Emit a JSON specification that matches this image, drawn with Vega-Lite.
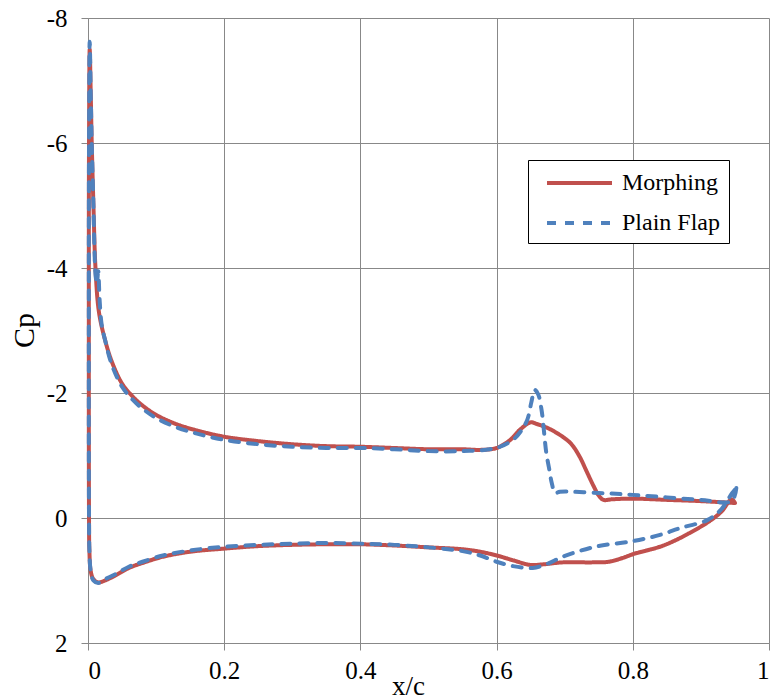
{
  "$schema": "https://vega.github.io/schema/vega-lite/v6.json",
  "width": 681,
  "height": 625,
  "autosize": {"type": "none"},
  "padding": {"left": 88, "top": 18, "right": 3, "bottom": 56},
  "background": "white",
  "config": {
    "font": "Liberation Serif",
    "view": {"stroke": null},
    "axis": {
      "gridColor": "#888888",
      "gridWidth": 1,
      "gridOpacity": 1,
      "domainColor": "#888888",
      "tickColor": "#888888",
      "tickSize": 7,
      "labelFont": "Liberation Serif",
      "labelColor": "black",
      "titleFont": "Liberation Serif",
      "titleColor": "black",
      "titleFontWeight": "normal"
    }
  },
  "data": {
    "values": [
      {"s": "Morphing", "o": 1, "x": 0.95, "cp": -0.24},
      {"s": "Morphing", "o": 2, "x": 0.9, "cp": -0.27},
      {"s": "Morphing", "o": 3, "x": 0.85, "cp": -0.29},
      {"s": "Morphing", "o": 4, "x": 0.8, "cp": -0.31},
      {"s": "Morphing", "o": 5, "x": 0.77, "cp": -0.3},
      {"s": "Morphing", "o": 6, "x": 0.757, "cp": -0.29},
      {"s": "Morphing", "o": 7, "x": 0.75, "cp": -0.36},
      {"s": "Morphing", "o": 8, "x": 0.742, "cp": -0.52},
      {"s": "Morphing", "o": 9, "x": 0.732, "cp": -0.75},
      {"s": "Morphing", "o": 10, "x": 0.722, "cp": -0.98},
      {"s": "Morphing", "o": 11, "x": 0.71, "cp": -1.18},
      {"s": "Morphing", "o": 12, "x": 0.697, "cp": -1.3},
      {"s": "Morphing", "o": 13, "x": 0.675, "cp": -1.44},
      {"s": "Morphing", "o": 14, "x": 0.66, "cp": -1.5},
      {"s": "Morphing", "o": 15, "x": 0.65, "cp": -1.53},
      {"s": "Morphing", "o": 16, "x": 0.635, "cp": -1.42},
      {"s": "Morphing", "o": 17, "x": 0.62, "cp": -1.25},
      {"s": "Morphing", "o": 18, "x": 0.6, "cp": -1.12},
      {"s": "Morphing", "o": 19, "x": 0.576, "cp": -1.09},
      {"s": "Morphing", "o": 20, "x": 0.55, "cp": -1.1},
      {"s": "Morphing", "o": 21, "x": 0.5, "cp": -1.1},
      {"s": "Morphing", "o": 22, "x": 0.45, "cp": -1.12},
      {"s": "Morphing", "o": 23, "x": 0.4, "cp": -1.14},
      {"s": "Morphing", "o": 24, "x": 0.35, "cp": -1.15},
      {"s": "Morphing", "o": 25, "x": 0.3, "cp": -1.18},
      {"s": "Morphing", "o": 26, "x": 0.25, "cp": -1.23},
      {"s": "Morphing", "o": 27, "x": 0.2, "cp": -1.3},
      {"s": "Morphing", "o": 28, "x": 0.16, "cp": -1.4},
      {"s": "Morphing", "o": 29, "x": 0.13, "cp": -1.5},
      {"s": "Morphing", "o": 30, "x": 0.1, "cp": -1.65},
      {"s": "Morphing", "o": 31, "x": 0.08, "cp": -1.8},
      {"s": "Morphing", "o": 32, "x": 0.065, "cp": -1.95},
      {"s": "Morphing", "o": 33, "x": 0.05, "cp": -2.15},
      {"s": "Morphing", "o": 34, "x": 0.035, "cp": -2.5},
      {"s": "Morphing", "o": 35, "x": 0.025, "cp": -2.85},
      {"s": "Morphing", "o": 36, "x": 0.016, "cp": -3.3},
      {"s": "Morphing", "o": 37, "x": 0.011, "cp": -4.0},
      {"s": "Morphing", "o": 38, "x": 0.008, "cp": -5.0},
      {"s": "Morphing", "o": 39, "x": 0.0055, "cp": -6.0},
      {"s": "Morphing", "o": 40, "x": 0.004, "cp": -6.8},
      {"s": "Morphing", "o": 41, "x": 0.0025, "cp": -7.5},
      {"s": "Morphing", "o": 42, "x": 0.0015, "cp": -6.0},
      {"s": "Morphing", "o": 43, "x": 0.0012, "cp": -3.0},
      {"s": "Morphing", "o": 44, "x": 0.0015, "cp": 0.0},
      {"s": "Morphing", "o": 45, "x": 0.002, "cp": 0.5},
      {"s": "Morphing", "o": 46, "x": 0.004, "cp": 0.85},
      {"s": "Morphing", "o": 47, "x": 0.008, "cp": 0.98},
      {"s": "Morphing", "o": 48, "x": 0.015, "cp": 1.03},
      {"s": "Morphing", "o": 49, "x": 0.025, "cp": 1.0},
      {"s": "Morphing", "o": 50, "x": 0.04, "cp": 0.92},
      {"s": "Morphing", "o": 51, "x": 0.06, "cp": 0.8},
      {"s": "Morphing", "o": 52, "x": 0.08, "cp": 0.72},
      {"s": "Morphing", "o": 53, "x": 0.11, "cp": 0.62},
      {"s": "Morphing", "o": 54, "x": 0.15, "cp": 0.54},
      {"s": "Morphing", "o": 55, "x": 0.2, "cp": 0.49},
      {"s": "Morphing", "o": 56, "x": 0.25, "cp": 0.45},
      {"s": "Morphing", "o": 57, "x": 0.3, "cp": 0.43},
      {"s": "Morphing", "o": 58, "x": 0.35, "cp": 0.42},
      {"s": "Morphing", "o": 59, "x": 0.4, "cp": 0.42},
      {"s": "Morphing", "o": 60, "x": 0.45, "cp": 0.44},
      {"s": "Morphing", "o": 61, "x": 0.5, "cp": 0.47},
      {"s": "Morphing", "o": 62, "x": 0.55, "cp": 0.5},
      {"s": "Morphing", "o": 63, "x": 0.576, "cp": 0.54},
      {"s": "Morphing", "o": 64, "x": 0.6, "cp": 0.6},
      {"s": "Morphing", "o": 65, "x": 0.625, "cp": 0.68},
      {"s": "Morphing", "o": 66, "x": 0.649, "cp": 0.75},
      {"s": "Morphing", "o": 67, "x": 0.67, "cp": 0.74},
      {"s": "Morphing", "o": 68, "x": 0.697, "cp": 0.71},
      {"s": "Morphing", "o": 69, "x": 0.74, "cp": 0.71},
      {"s": "Morphing", "o": 70, "x": 0.765, "cp": 0.7},
      {"s": "Morphing", "o": 71, "x": 0.785, "cp": 0.64},
      {"s": "Morphing", "o": 72, "x": 0.8, "cp": 0.58},
      {"s": "Morphing", "o": 73, "x": 0.82, "cp": 0.52},
      {"s": "Morphing", "o": 74, "x": 0.84, "cp": 0.46},
      {"s": "Morphing", "o": 75, "x": 0.86, "cp": 0.37},
      {"s": "Morphing", "o": 76, "x": 0.88, "cp": 0.26},
      {"s": "Morphing", "o": 77, "x": 0.91, "cp": 0.07},
      {"s": "Morphing", "o": 78, "x": 0.93, "cp": -0.1},
      {"s": "Morphing", "o": 79, "x": 0.945, "cp": -0.3},
      {"s": "Morphing", "o": 80, "x": 0.95, "cp": -0.24},
      {"s": "Plain Flap", "o": 1, "x": 0.952, "cp": -0.48},
      {"s": "Plain Flap", "o": 2, "x": 0.945, "cp": -0.27},
      {"s": "Plain Flap", "o": 3, "x": 0.9, "cp": -0.29},
      {"s": "Plain Flap", "o": 4, "x": 0.85, "cp": -0.33},
      {"s": "Plain Flap", "o": 5, "x": 0.8, "cp": -0.37},
      {"s": "Plain Flap", "o": 6, "x": 0.75, "cp": -0.4},
      {"s": "Plain Flap", "o": 7, "x": 0.693, "cp": -0.42},
      {"s": "Plain Flap", "o": 8, "x": 0.686, "cp": -0.4},
      {"s": "Plain Flap", "o": 9, "x": 0.681, "cp": -0.56},
      {"s": "Plain Flap", "o": 10, "x": 0.677, "cp": -0.8},
      {"s": "Plain Flap", "o": 11, "x": 0.673, "cp": -1.04},
      {"s": "Plain Flap", "o": 12, "x": 0.666, "cp": -1.73},
      {"s": "Plain Flap", "o": 13, "x": 0.661, "cp": -1.98},
      {"s": "Plain Flap", "o": 14, "x": 0.656, "cp": -2.05},
      {"s": "Plain Flap", "o": 15, "x": 0.651, "cp": -1.85},
      {"s": "Plain Flap", "o": 16, "x": 0.645, "cp": -1.57},
      {"s": "Plain Flap", "o": 17, "x": 0.635, "cp": -1.38},
      {"s": "Plain Flap", "o": 18, "x": 0.624, "cp": -1.25},
      {"s": "Plain Flap", "o": 19, "x": 0.605, "cp": -1.14},
      {"s": "Plain Flap", "o": 20, "x": 0.59, "cp": -1.1},
      {"s": "Plain Flap", "o": 21, "x": 0.55, "cp": -1.07},
      {"s": "Plain Flap", "o": 22, "x": 0.5, "cp": -1.07},
      {"s": "Plain Flap", "o": 23, "x": 0.45, "cp": -1.1},
      {"s": "Plain Flap", "o": 24, "x": 0.4, "cp": -1.12},
      {"s": "Plain Flap", "o": 25, "x": 0.35, "cp": -1.12},
      {"s": "Plain Flap", "o": 26, "x": 0.3, "cp": -1.14},
      {"s": "Plain Flap", "o": 27, "x": 0.25, "cp": -1.18},
      {"s": "Plain Flap", "o": 28, "x": 0.2, "cp": -1.25},
      {"s": "Plain Flap", "o": 29, "x": 0.16, "cp": -1.35},
      {"s": "Plain Flap", "o": 30, "x": 0.13, "cp": -1.45},
      {"s": "Plain Flap", "o": 31, "x": 0.1, "cp": -1.6},
      {"s": "Plain Flap", "o": 32, "x": 0.08, "cp": -1.75},
      {"s": "Plain Flap", "o": 33, "x": 0.065, "cp": -1.9},
      {"s": "Plain Flap", "o": 34, "x": 0.05, "cp": -2.1},
      {"s": "Plain Flap", "o": 35, "x": 0.035, "cp": -2.45},
      {"s": "Plain Flap", "o": 36, "x": 0.025, "cp": -2.85},
      {"s": "Plain Flap", "o": 37, "x": 0.02, "cp": -3.1},
      {"s": "Plain Flap", "o": 38, "x": 0.017, "cp": -3.5},
      {"s": "Plain Flap", "o": 39, "x": 0.015, "cp": -3.95},
      {"s": "Plain Flap", "o": 40, "x": 0.013, "cp": -3.75},
      {"s": "Plain Flap", "o": 41, "x": 0.011, "cp": -3.9},
      {"s": "Plain Flap", "o": 42, "x": 0.0095, "cp": -4.3},
      {"s": "Plain Flap", "o": 43, "x": 0.008, "cp": -5.0},
      {"s": "Plain Flap", "o": 44, "x": 0.0055, "cp": -6.0},
      {"s": "Plain Flap", "o": 45, "x": 0.004, "cp": -6.8},
      {"s": "Plain Flap", "o": 46, "x": 0.0025, "cp": -7.62},
      {"s": "Plain Flap", "o": 47, "x": 0.0015, "cp": -6.0},
      {"s": "Plain Flap", "o": 48, "x": 0.0012, "cp": -3.0},
      {"s": "Plain Flap", "o": 49, "x": 0.0015, "cp": 0.0},
      {"s": "Plain Flap", "o": 50, "x": 0.002, "cp": 0.5},
      {"s": "Plain Flap", "o": 51, "x": 0.004, "cp": 0.85},
      {"s": "Plain Flap", "o": 52, "x": 0.008, "cp": 1.0},
      {"s": "Plain Flap", "o": 53, "x": 0.015, "cp": 1.04},
      {"s": "Plain Flap", "o": 54, "x": 0.025, "cp": 0.98},
      {"s": "Plain Flap", "o": 55, "x": 0.04, "cp": 0.9},
      {"s": "Plain Flap", "o": 56, "x": 0.06, "cp": 0.78},
      {"s": "Plain Flap", "o": 57, "x": 0.08, "cp": 0.7},
      {"s": "Plain Flap", "o": 58, "x": 0.11, "cp": 0.6},
      {"s": "Plain Flap", "o": 59, "x": 0.15, "cp": 0.52},
      {"s": "Plain Flap", "o": 60, "x": 0.2, "cp": 0.46},
      {"s": "Plain Flap", "o": 61, "x": 0.25, "cp": 0.43},
      {"s": "Plain Flap", "o": 62, "x": 0.3, "cp": 0.41},
      {"s": "Plain Flap", "o": 63, "x": 0.35, "cp": 0.4},
      {"s": "Plain Flap", "o": 64, "x": 0.4, "cp": 0.41},
      {"s": "Plain Flap", "o": 65, "x": 0.45, "cp": 0.43},
      {"s": "Plain Flap", "o": 66, "x": 0.5, "cp": 0.47},
      {"s": "Plain Flap", "o": 67, "x": 0.55, "cp": 0.53},
      {"s": "Plain Flap", "o": 68, "x": 0.576, "cp": 0.6},
      {"s": "Plain Flap", "o": 69, "x": 0.6, "cp": 0.7},
      {"s": "Plain Flap", "o": 70, "x": 0.624, "cp": 0.77},
      {"s": "Plain Flap", "o": 71, "x": 0.653, "cp": 0.8},
      {"s": "Plain Flap", "o": 72, "x": 0.675, "cp": 0.73},
      {"s": "Plain Flap", "o": 73, "x": 0.697, "cp": 0.62},
      {"s": "Plain Flap", "o": 74, "x": 0.745, "cp": 0.46},
      {"s": "Plain Flap", "o": 75, "x": 0.8, "cp": 0.37},
      {"s": "Plain Flap", "o": 76, "x": 0.84, "cp": 0.27},
      {"s": "Plain Flap", "o": 77, "x": 0.87, "cp": 0.16},
      {"s": "Plain Flap", "o": 78, "x": 0.91, "cp": 0.03},
      {"s": "Plain Flap", "o": 79, "x": 0.93, "cp": -0.14},
      {"s": "Plain Flap", "o": 80, "x": 0.946, "cp": -0.4},
      {"s": "Plain Flap", "o": 81, "x": 0.952, "cp": -0.48}
    ]
  },
  "mark": {"type": "line", "strokeWidth": 4, "strokeCap": "round", "strokeJoin": "round", "interpolate": "catmull-rom"},
  "encoding": {
    "x": {
      "field": "x",
      "type": "quantitative",
      "scale": {"domain": [0, 1], "nice": false, "zero": false},
      "axis": {
        "values": [0, 0.2, 0.4, 0.6, 0.8, 1],
        "labelExpr": "'' + datum.value",
        "labelFontSize": 25,
        "labelPadding": 8,
        "title": "x/c",
        "titleFontSize": 27,
        "titleX": 320,
        "titleY": 51,
        "titleAlign": "center",
        "titleBaseline": "alphabetic"
      }
    },
    "y": {
      "field": "cp",
      "type": "quantitative",
      "scale": {"domain": [-8, 2], "nice": false, "zero": false, "reverse": true},
      "axis": {
        "values": [-8, -6, -4, -2, 0, 2],
        "labelExpr": "'' + datum.value",
        "labelFontSize": 25,
        "labelPadding": 14,
        "title": "Cp",
        "titleFontSize": 30,
        "titleX": -55,
        "titleY": 312,
        "titleAngle": 270,
        "titleAlign": "center",
        "titleBaseline": "alphabetic"
      }
    },
    "order": {"field": "o", "type": "quantitative"},
    "color": {
      "field": "s",
      "type": "nominal",
      "scale": {"domain": ["Morphing", "Plain Flap"], "range": ["#C0504D", "#4F81BD"]},
      "legend": {
        "title": null,
        "orient": "none",
        "legendX": 440,
        "legendY": 142,
        "strokeColor": "black",
        "fillColor": "white",
        "padding": 8,
        "symbolType": "M-2.5,0H2.5",
        "symbolSize": 676,
        "symbolStrokeWidth": 4,
        "symbolOffset": 28.5,
        "labelFont": "Liberation Serif",
        "labelFontSize": 24,
        "labelColor": "black",
        "labelOffset": 27.5,
        "rowPadding": 13
      }
    },
    "strokeDash": {
      "field": "s",
      "type": "nominal",
      "scale": {"domain": ["Morphing", "Plain Flap"], "range": [[1, 0], [9, 9]]},
      "legend": null
    }
  }
}
